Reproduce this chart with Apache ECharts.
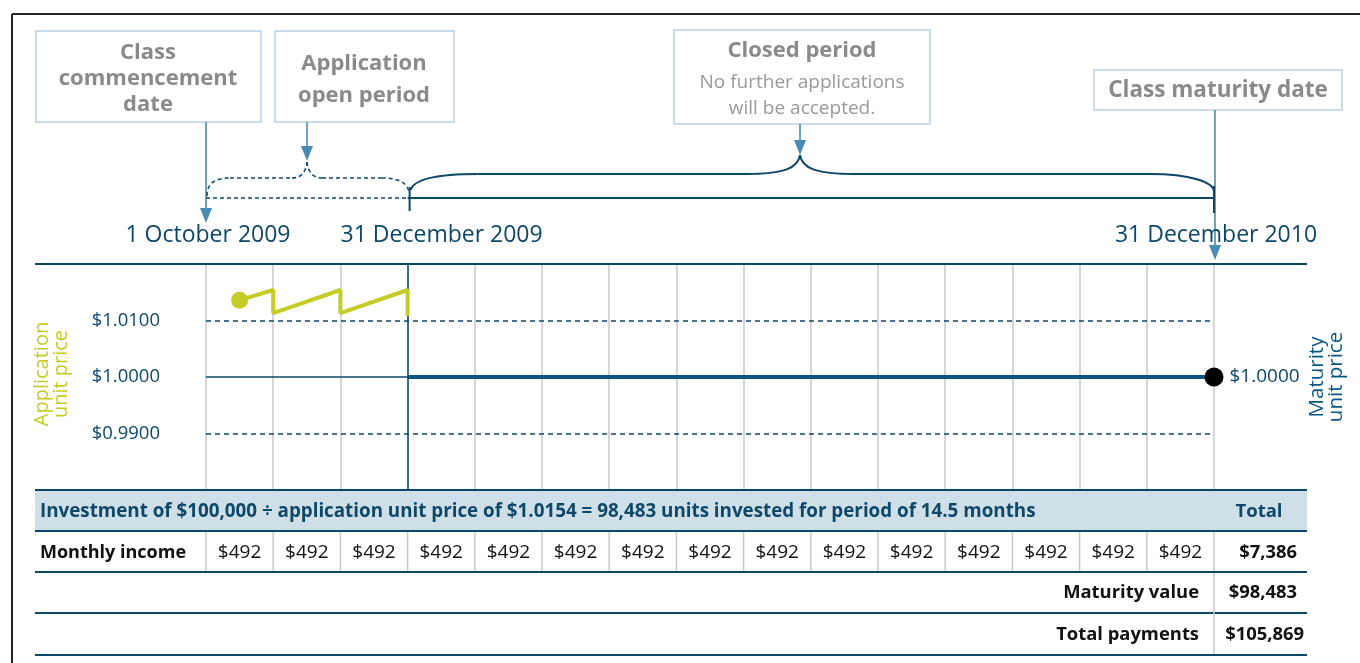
<!DOCTYPE html>
<html><head><meta charset="utf-8">
<script src="https://cdn.jsdelivr.net/npm/echarts@6/dist/echarts.min.js"></script>
<style>html,body{margin:0;padding:0;background:#fff;}#c{width:1360px;height:663px;}</style>
</head><body><div id="c"></div>
<script>
// ---------- data ----------
const months = ['Oct 2009','Nov 2009','Dec 2009','Jan 2010','Feb 2010','Mar 2010','Apr 2010','May 2010','Jun 2010','Jul 2010','Aug 2010','Sep 2010','Oct 2010','Nov 2010','Dec 2010'];
const monthlyIncome = [492,492,492,492,492,492,492,492,492,492,492,492,492,492,492];
const incomeTotal = 7386;
const maturityValue = 98483;
const totalPayments = 105869;
const applicationPrice = [[0.5,1.0136],[1,1.0154],[1,1.0113],[2,1.0154],[2,1.0113],[3,1.0154],[3,1.0108]];
const preCloseLine = [[0,1.0],[3,1.0]];
const maturityPrice = [[3,1.0],[15,1.0]];
const maturityPoint = [[15,1.0]];
const priceTicks = [0.99,1.00,1.01];
const dateLabels = [{m:0,text:'1 October 2009'},{m:3,text:'31 December 2009'},{m:15,text:'31 December 2010'}];
const headerText = 'Investment of $100,000 ÷ application unit price of $1.0154 = 98,483 units invested for period of 14.5 months';

// ---------- styles ----------
const DARK = '#0d4868';
const TEAL = '#0b5782';
const GREEN = '#c3cd26';
const ARROW = '#4a8bb3';
const BOXB = '#b9d1e4';
const BOXT = '#8a8a8a';
const GRIDC = '#c8c8c8';
const FONT = '"Open Sans","Noto Sans",sans-serif';
const fmt = v => '$' + v.toLocaleString('en-US');

const chart = echarts.init(document.getElementById('c'));
chart.setOption({
  animation:false,
  grid:{left:206,right:146,top:264,height:226},
  xAxis:{type:'value',min:0,max:15,interval:1,
    axisLine:{show:false},axisTick:{show:false},axisLabel:{show:false},
    splitLine:{show:true,lineStyle:{color:GRIDC,width:1.5}}},
  yAxis:{type:'value',min:0.98,max:1.02,interval:0.01,
    axisLine:{show:false},axisTick:{show:false},splitLine:{show:false},
    axisLabel:{margin:46,color:DARK,fontSize:18.5,fontFamily:FONT,padding:[3,0,0,0],
      formatter:v=>priceTicks.some(t=>Math.abs(t-v)<1e-6)?'$'+v.toFixed(4):''}},
  series:[
    {type:'line',data:preCloseLine,symbol:'none',lineStyle:{color:DARK,width:1.5},z:3,
     markLine:{silent:true,symbol:'none',label:{show:false},
       data:[
         [{coord:[0,priceTicks[2]],lineStyle:{color:DARK,type:[5,4],width:1.5}},{coord:[15,priceTicks[2]]}],
         [{coord:[0,priceTicks[0]],lineStyle:{color:DARK,type:[5,4],width:1.5}},{coord:[15,priceTicks[0]]}],
         [{coord:[3,0.98],lineStyle:{color:DARK,type:'solid',width:1.5}},{coord:[3,1.02]}]
       ]}},
    {type:'line',data:maturityPrice,symbol:'none',lineStyle:{color:TEAL,width:4},z:4},
    {type:'line',data:applicationPrice,symbol:'none',lineStyle:{color:GREEN,width:4},z:5},
    {type:'scatter',data:[applicationPrice[0]],symbolSize:17,itemStyle:{color:GREEN,opacity:1},z:6},
    {type:'scatter',data:maturityPoint,symbolSize:19,itemStyle:{color:'#000',opacity:1},z:6,
     label:{show:true,position:'right',distance:6,color:DARK,fontSize:19,fontFamily:FONT,
       formatter:p=>'$'+p.value[1].toFixed(4)}}
  ]
});

const px = (x,y) => chart.convertToPixel({gridIndex:0},[x,y]);
const X = m => px(m,1)[0];
const g = [];
const line = (x1,y1,x2,y2,color,w,dash) => g.push({type:'line',shape:{x1,y1,x2,y2},style:{stroke:color,lineWidth:w,lineDash:dash||null},z:10});
const bez = (x1,y1,cpx1,cpy1,cpx2,cpy2,x2,y2,color,w,dash) => g.push({type:'bezierCurve',shape:{x1,y1,cpx1,cpy1,cpx2,cpy2,x2,y2},style:{stroke:color,fill:null,lineWidth:w,lineDash:dash||null},z:10});
const text = (x,y,t,o) => g.push({type:'text',x,y,style:Object.assign({text:t,fontFamily:FONT,verticalAlign:'middle'},o),z:11});
const arrow = (x,y1,y2) => { line(x,y1,x,y2-10,ARROW,1.6); g.push({type:'polygon',shape:{points:[[x-6,y2-15],[x+6,y2-15],[x,y2]]},style:{fill:ARROW},z:11}); };
const box = (x,y,w,h) => g.push({type:'rect',shape:{x,y,width:w,height:h},style:{fill:'#fff',stroke:BOXB,lineWidth:1.5},z:10});

// outer frame
line(12,14,1360,14,'#222',2);
line(12,14,12,663,'#222',2);

// annotation boxes
box(36,31,225,91);
text(148,79,'Class\ncommencement\ndate',{align:'center',fill:BOXT,fontSize:22,fontWeight:'bold',lineHeight:26});
box(275,31,179,91);
text(364,80,'Application\nopen period',{align:'center',fill:BOXT,fontSize:22,fontWeight:'bold',lineHeight:32});
box(674,30,256,94);
text(802,51,'Closed period',{align:'center',fill:BOXT,fontSize:22,fontWeight:'bold'});
text(802,96,'No further applications\nwill be accepted.',{align:'center',fill:'#999',fontSize:19,lineHeight:26});
box(1094,70,248,40);
text(1218,91,'Class maturity date',{align:'center',fill:BOXT,fontSize:22.5,fontWeight:'bold'});

// arrows
arrow(X(0),122,223);
arrow(307,122,161);
arrow(800,124,155);
arrow(X(15)+1,110,260);

// braces
const x0=X(0), x3=X(3), x15=X(15);
const D=[4,3];
bez(x0+1,196, x0+1,184, x0+8,178, x0+24,178, DARK,1.5,D);
line(x0+24,178,292,178,DARK,1.5,D);
bez(292,178, 301,178, 306,172, 307,162, DARK,1.5,D);
bez(307,162, 308,172, 313,178, 322,178, DARK,1.5,D);
line(322,178,x3-26,178,DARK,1.5,D);
bez(x3-26,178, x3-8,178, x3+1,184, x3+1,192, DARK,1.5,D);
line(x0,198,x3,198,DARK,1.5,D);

bez(x3+3,190, x3+6,180, x3+25,174, x3+70,174, DARK,2);
line(x3+70,174,745,174,DARK,2);
bez(745,174, 785,174, 798,168, 800,155, DARK,2);
bez(800,155, 802,168, 815,174, 855,174, DARK,2);
line(855,174,1150,174,DARK,2);
bez(1150,174, 1190,174, x15,182, x15,192, DARK,2);
line(x3,198,x15,198,DARK,2);
line(x3+2,187,x3+2,211,DARK,2);
line(x15,186,x15,213,DARK,2);

// date labels
const dateOffsets = [2,34,2];
dateLabels.forEach((d,i)=>text(X(d.m)+dateOffsets[i],235,d.text,{align:'center',fill:DARK,fontSize:23}));

// axis titles
g.push({type:'text',x:52,y:374,rotation:Math.PI/2,style:{text:'Application\nunit price',align:'center',verticalAlign:'middle',fill:GREEN,fontSize:20,lineHeight:19,fontFamily:FONT},z:11});
g.push({type:'text',x:1327,y:377,rotation:Math.PI/2,style:{text:'Maturity\nunit price',align:'center',verticalAlign:'middle',fill:TEAL,fontSize:20.5,lineHeight:19,fontFamily:FONT},z:11});

// chart top line
line(35,264,1307,264,DARK,2);

// table
const rowTop=[490,531,572,613,655];
g.push({type:'rect',shape:{x:35,y:490,width:1272,height:41},style:{fill:'#cfdfe8'},z:9});
rowTop.forEach(y=>line(35,y,1307,y,DARK,2));
for(let i=0;i<=months.length;i++) line(X(i),532,X(i),571,GRIDC,1.5);
line(x15,573,x15,654,GRIDC,1.5);
text(40,512,headerText,{fill:DARK,fontSize:18.8,fontWeight:'bold'});
text(1259,512,'Total',{align:'center',fill:DARK,fontSize:18.5,fontWeight:'bold'});
text(40,553,'Monthly income',{fill:'#111',fontSize:18,fontWeight:'bold'});
monthlyIncome.forEach((v,i)=>text(X(i+0.5),553,fmt(v),{align:'center',fill:'#111',fontSize:19}));
text(1297,553,fmt(incomeTotal),{align:'right',fill:'#111',fontSize:18.4,fontWeight:'bold'});
text(1199,593,'Maturity value',{align:'right',fill:'#111',fontSize:18.4,fontWeight:'bold'});
text(1297,593,fmt(maturityValue),{align:'right',fill:'#111',fontSize:18.4,fontWeight:'bold'});
text(1199,635,'Total payments',{align:'right',fill:'#111',fontSize:18.4,fontWeight:'bold'});
text(1304,635,fmt(totalPayments),{align:'right',fill:'#111',fontSize:18.4,fontWeight:'bold'});

chart.setOption({graphic:g});
</script></body></html>
